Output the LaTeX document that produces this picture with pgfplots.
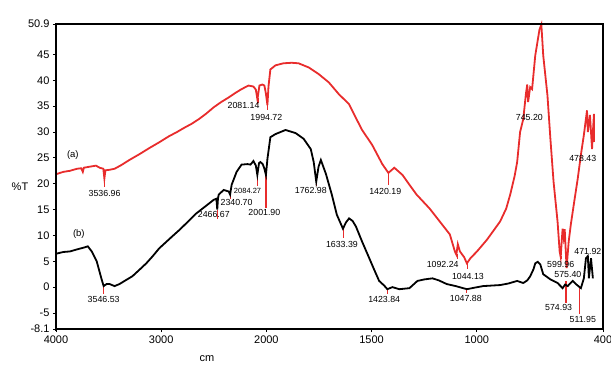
\documentclass[border=0pt]{standalone}
\usepackage{pgfplots}
\pgfplotsset{compat=1.18}
\usepackage{fontspec}
\setmainfont{Liberation Sans}
\definecolor{irred}{RGB}{232,44,44}
\tikzset{lab/.style={font=\fontsize{8.8}{9}\selectfont, inner sep=0pt}}
\newcommand{\pk}[3]{\addplot[irred,line width=1.4pt,forget plot] coordinates {(#1,#2) (#1,#3)};}
\begin{document}
\begin{tikzpicture}
\begin{axis}[
 scale only axis, width=547pt, height=305pt,
 xmin=400, xmax=4000, ymin=-8.1, ymax=50.9,
 x dir=reverse,
 x coord trafo/.code={\pgfmathparse{#1>1999.99 ? 2000+(#1-2000)/2 : #1}},
 xtick={4000,3000,2000,1500,1000,400}, xticklabels={4000,3000,2000,1500,1000,400},
 ytick={-8.1,-5,0,5,10,15,20,25,30,35,40,45,50.9},
 yticklabels={-8.1,-5,0,5,10,15,20,25,30,35,40,45,50.9},
 tick align=outside, xtick pos=bottom, ytick pos=left, major tick length=3pt,
 tick label style={font=\fontsize{11}{12}\selectfont},
 /pgf/number format/assume math mode=true,
 axis line style={line width=1.2pt},
 tick style={line width=0.9pt, black},
 clip=false,
]
% peak marker lines
\pk{3537}{21}{19.4}
\pk{2081}{36.5}{35.6}
\pk{1995}{35.2}{34.3}
\pk{1420}{22.1}{19.8}
\pk{1092}{6.5}{5.4}
\pk{1044}{4.6}{3.5}
\pk{600}{6}{5.4}
\pk{3547}{0.2}{-1.3}
\pk{2467}{15}{13.1}
\pk{2341}{17.9}{17}
\pk{2084}{21.7}{19.5}
\pk{2002}{21.7}{15.4}
\pk{1763}{20.4}{19.5}
\pk{1633}{11.3}{9.5}
\pk{1424}{-0.4}{-1.3}
\pk{1048}{-0.4}{-1.2}
\pk{575}{1.2}{-3}
\pk{512}{-0.2}{-5.2}
% (a)
\addplot[irred, line width=1.8pt] coordinates {
(3991,21.9)(3930,22.3)(3868,22.5)(3800,22.9)(3760,23.0)(3745,22.3)(3735,23.1)(3679,23.3)(3620,23.5)(3585,23.1)(3550,22.9)(3540,21.0)(3530,22.6)(3491,22.7)(3443,22.9)(3380,23.6)(3302,24.6)(3200,25.8)(3113,26.9)(3020,28.0)(2925,29.2)(2850,30.0)(2783,30.8)(2710,31.6)(2642,32.5)(2570,33.6)(2500,34.8)(2430,35.8)(2358,36.7)(2300,37.5)(2236,38.3)(2170,39.0)(2123,38.8)(2100,38.2)(2085,36.3)(2066,39.0)(2038,39.2)(2019,39.0)(2005,37.5)(1995,35.2)(1990,38.8)(1981,42.1)(1957,42.9)(1919,43.3)(1880,43.4)(1847,43.3)(1799,42.5)(1751,41.2)(1703,39.6)(1655,37.3)(1607,35.4)(1569,32.3)(1545,30.4)(1497,27.5)(1449,23.8)(1420,22.1)(1392,23.1)(1353,21.7)(1320,19.8)(1286,17.9)(1224,15.2)(1176,12.7)(1128,10.2)(1104,6.9)(1097,6.3)(1090,8.3)(1080,6.9)(1060,5.8)(1047,4.6)(1030,5.6)(999,6.9)(951,9.2)(889,12.7)(860,15.2)(841,17.9)(820,21.5)(808,24.2)(794,30.0)(779,32.5)(766,37.5)(760,39.2)(756,35.8)(746,38.7)(737,38.3)(722,44.8)(702,49.8)(693,50.8)(684,44.8)(664,37.1)(650,28.7)(635,20.4)(616,12.7)(606,6.9)(601,5.8)(596,9.0)(592,11.3)(587,9.6)(582,11.2)(573,3.7)(563,8.8)(553,12.1)(535,17)(520,21.0)(505,25.6)(491,29.4)(476,34.2)(472,30.0)(462,33.3)(452,26.7)(448,30)(443,33.5)(443,28.1)
};
% (b)
\addplot[black, line width=1.8pt] coordinates {
(3991,6.5)(3930,6.8)(3868,6.9)(3800,7.3)(3726,7.7)(3698,7.9)(3660,6.9)(3613,5.0)(3566,1.5)(3547,0.2)(3519,0.6)(3491,0.6)(3443,0.2)(3396,0.6)(3340,1.3)(3274,2.1)(3210,3.3)(3142,4.6)(3080,6.0)(3019,7.5)(2960,8.6)(2896,9.8)(2830,11.0)(2764,12.3)(2720,13.2)(2670,14.2)(2594,15.4)(2500,16.9)(2475,17.1)(2467,15.0)(2460,17.2)(2453,17.9)(2406,18.8)(2358,18.5)(2345,17.9)(2330,19.8)(2283,22.3)(2236,23.7)(2179,23.8)(2151,23.7)(2123,24.4)(2100,23.5)(2086,21.7)(2070,24.0)(2057,24.2)(2035,23.8)(2020,23.0)(2004,21.7)(1995,24.8)(1981,29.0)(1957,29.6)(1909,30.4)(1861,29.8)(1823,28.7)(1789,26.7)(1775,24.2)(1763,20.4)(1752,23.3)(1741,24.6)(1717,21.9)(1689,17.9)(1665,14.0)(1636,11.3)(1622,12.5)(1607,13.3)(1590,12.8)(1574,11.7)(1545,8.8)(1511,5.6)(1490,3.6)(1464,1.2)(1440,0.3)(1425,-0.4)(1401,0)(1368,-0.4)(1320,-0.2)(1282,1.2)(1248,1.5)(1210,1.7)(1180,1.3)(1143,0.6)(1100,0.2)(1047,-0.4)(1010,-0.1)(970,0.2)(930,0.3)(889,0.4)(850,0.7)(808,1.2)(779,0.8)(760,1.3)(746,2.1)(730,3.5)(722,4.6)(710,4.9)(698,4.4)(684,2.5)(650,1.5)(616,0.8)(592,-0.2)(580,0.5)(568,0.2)(544,1.2)(529,0.6)(505,-0.2)(491,1.7)(481,5.6)(472,6.0)(467,1.7)(457,5.6)(448,1.7)
};
% labels
\node[lab] at (axis cs:3538,18.1) {3536.96};
\node[lab] at (axis cs:2217,35.2) {2081.14};
\node[lab] at (axis cs:2000,32.9) {1994.72};
\node[lab] at (axis cs:750,32.9) {745.20};
\node[lab] at (axis cs:496,24.8) {478.43};
\node[lab,font=\fontsize{9.5}{10}\selectfont] at (axis cs:3840,25.6) {(a)};
\node[lab,font=\fontsize{9.5}{10}\selectfont] at (axis cs:3783,10.2) {(b)};
\node[lab] at (axis cs:1435,18.5) {1420.19};
\node[lab] at (axis cs:1162,4.4) {1092.24};
\node[lab] at (axis cs:1042,2.1) {1044.13};
\node[lab] at (axis cs:601,4.4) {599.96};
\node[lab] at (axis cs:567,2.5) {575.40};
\node[lab] at (axis cs:472,6.9) {471.92};
\node[lab] at (axis cs:611,-4) {574.93};
\node[lab] at (axis cs:496,-6.2) {511.95};
\node[lab] at (axis cs:1052,-2.1) {1047.88};
\node[lab] at (axis cs:3547,-2.3) {3546.53};
\node[lab] at (axis cs:2500,14) {2466.67};
\node[lab] at (axis cs:2283,16.3) {2340.70};
\node[lab,font=\fontsize{7.5}{8}\selectfont] at (axis cs:2179,18.7) {2084.27};
\node[lab] at (axis cs:2019,14.4) {2001.90};
\node[lab] at (axis cs:1789,18.7) {1762.98};
\node[lab] at (axis cs:1641,8.3) {1633.39};
\node[lab] at (axis cs:1440,-2.3) {1423.84};
\draw[line width=2.2pt] (axis description cs:0,-0.005) -- (axis description cs:0,1);
\draw[line width=2.2pt] (axis description cs:0,0) -- (axis description cs:1,0);
\draw[line width=1.8pt] (axis description cs:0,1) -- (axis description cs:1,1);
\end{axis}
\node[font=\fontsize{11}{12}\selectfont] at (-36pt,142pt) {\%T};
\node[font=\fontsize{11}{12}\selectfont] at (151pt,-30pt) {cm};
\pgfresetboundingbox
\useasboundingbox (-56pt,-36pt) rectangle (555pt,329pt);
\end{tikzpicture}
\end{document}
